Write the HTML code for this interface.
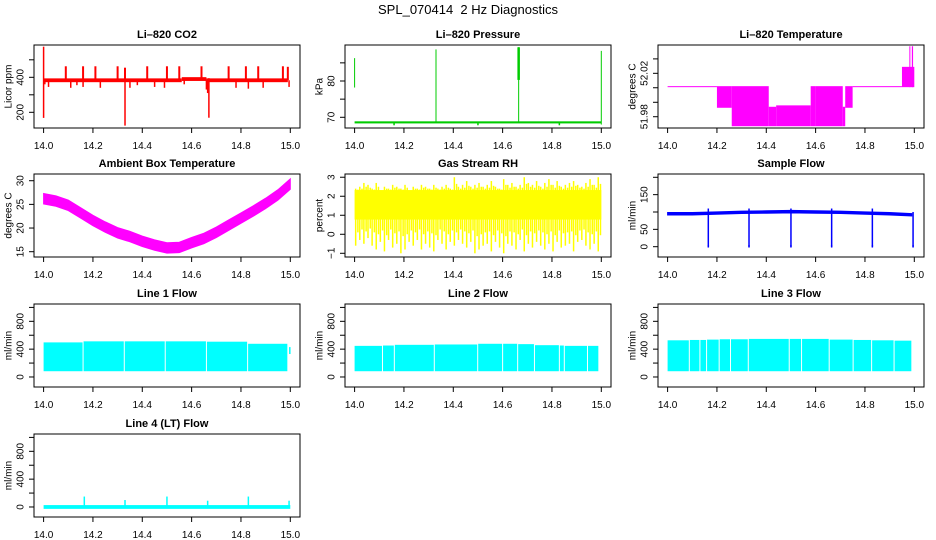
<!DOCTYPE html>
<html><head><meta charset="utf-8">
<style>
body{margin:0;background:#fff;}
svg{display:block;font-family:"Liberation Sans",sans-serif;}
</style></head>
<body>
<svg id="c" width="936" height="540" viewBox="0 0 936 540">
<rect x="0" y="0" width="936" height="540" fill="#fff"/>
<text x="468" y="14" text-anchor="middle" font-size="13" style="white-space:pre">SPL_070414&#160; 2 Hz Diagnostics</text>
</svg>
<script>
// ---- data ----
const xTicks = [14.0,14.2,14.4,14.6,14.8,15.0];
const xTickLabels = ["14.0","14.2","14.4","14.6","14.8","15.0"];

const co2SegStart = [14.0,14.56,14.66];
const co2SegEnd = [14.56,14.66,14.99];
const co2SegVal = [383,390,383];
const co2UpX = [14.09,14.16,14.21,14.30,14.33,14.42,14.50,14.55,14.64,14.75,14.82,14.87,14.97,14.99];
const co2UpV = [463,463,463,463,455,463,463,463,463,463,463,463,463,460];
const co2DownX = [14.005,14.02,14.11,14.135,14.16,14.23,14.35,14.38,14.45,14.49,14.57,14.66,14.665,14.78,14.83,14.89,14.995];
const co2DownV = [360,345,340,355,345,340,340,355,345,340,360,330,310,340,335,340,345];
const co2BigX = [14.0,14.33,14.67];
const co2BigLo = [168,124,169];
const co2BigHi = [575,420,395];

const presBase = 68.6;
const presX = [14.0,14.33,14.665,15.0];
const presLo = [78.2,68.6,68.6,68.0];
const presHi = [86.3,88.7,89.3,88.3];
const presDipX = [14.16,14.5,14.83];
const presDipV = [67.8,67.8,67.8];

const tempSegStart = [14.0,14.2,14.26,14.41,14.44,14.58,14.6,14.71,14.72,14.75,14.95,14.98,14.99];
const tempSegEnd = [14.2,14.26,14.41,14.44,14.58,14.6,14.71,14.72,14.75,14.95,15.0,14.984,14.995];
const tempSegLo = [52.0077,51.9887,51.9717,51.9717,51.9717,51.9717,51.9717,51.9717,51.9887,52.0077,52.0077,52.0077,52.0077];
const tempSegHi = [52.0077,52.0077,52.0077,51.9887,51.9900,52.0077,52.0077,51.9887,52.0077,52.0077,52.0255,52.0445,52.0445];

const ambX = [14.0,14.05,14.1,14.15,14.2,14.25,14.3,14.35,14.4,14.45,14.5,14.55,14.6,14.65,14.7,14.75,14.8,14.85,14.9,14.95,15.0];
const ambMid = [26.2,25.7,24.8,23.2,21.6,20.2,19.0,18.2,17.2,16.4,15.8,15.9,16.9,17.8,19.1,20.6,22.1,23.6,25.2,27.0,29.3];

const rhTop = [2.4,2.5,2.7,2.6,2.4,2.7,2.3,2.5,2.4,2.6,2.5,2.4,2.6,2.3,2.5,2.4,2.6,2.5,2.4,2.6,2.4,2.5,2.6,2.4,3.0,2.5,2.6,2.8,2.5,2.6,2.7,2.5,2.6,2.8,2.5,2.4,2.9,2.6,2.7,2.5,2.6,3.0,2.7,2.6,2.8,2.5,2.7,2.9,2.6,2.8,2.5,2.6,2.7,2.8,2.6,2.5,2.7,2.9,2.6,3.0];
const rhBot = [-0.6,-0.3,-0.5,-0.2,-0.6,-0.8,-0.4,-0.9,-0.3,-0.7,-0.5,-1.0,-0.8,-0.4,-0.6,-0.3,-0.8,-0.5,-0.7,-0.9,-0.3,-0.5,-0.8,-0.4,-0.6,-0.3,-0.5,-0.7,-0.4,-1.0,-0.8,-0.6,-0.5,-0.9,-0.4,-0.7,-1.0,-0.5,-0.6,-0.8,-0.3,-0.9,-0.5,-0.7,-0.4,-0.6,-0.8,-0.5,-0.9,-0.4,-0.7,-0.6,-0.5,-0.9,-0.4,-0.3,-0.6,-0.8,-0.5,-0.9];
const rhCoreLo = 0.8, rhCoreHi = 2.3;

const sfX = [14.0,14.1,14.2,14.3,14.4,14.5,14.6,14.7,14.8,14.9,14.99];
const sfMid = [95,95,97,99,100,101,100,99,97,95,92];
const sfDipX = [14.165,14.33,14.5,14.665,14.83,14.995];
const sfDipTop = [110,110,110,110,110,100];

const l1Gaps = [14.16,14.327,14.493,14.66,14.827];
const l1Top = [490,505,505,505,500,470];
const l2Gaps = [14.113,14.161,14.323,14.499,14.600,14.661,14.729,14.830,14.850,14.944];
const l2Top = [440,445,455,460,470,470,465,450,445,440,440];
const l3Gaps = [14.088,14.131,14.158,14.209,14.255,14.327,14.493,14.543,14.655,14.752,14.827,14.918];
const l3Top = [520,525,525,530,535,535,540,540,540,530,525,520,515];
const flowLow = 90;
const l4SpikeX = [14.165,14.33,14.5,14.665,14.83,14.995];
const l4SpikeV = [150,100,150,90,150,90];

// ---- layout ----
const svg = document.getElementById('c');
const NS = 'http://www.w3.org/2000/svg';
const colL = [34,345,658], rowT = [45,174,304,434], PW = 266, PH = 83;
function mk(tag, attrs, parent){const e=document.createElementNS(NS,tag);for(const k in attrs)e.setAttribute(k,attrs[k]);(parent||svg).appendChild(e);return e;}

function panel(name,title,ylab,col,row,ylo,yhi,yt,ytl){
  const L=colL[col],T=rowT[row];
  const g=mk('g',{});
  
  
  const sx=v=>L+9.6+(v-14)*246.7;
  const sy=v=>T+PH-(v-ylo)/(yhi-ylo)*PH;
  const plot=mk('g',{},g);
  
  
  const box=mk('rect',{x:L,y:T,width:PW,height:PH,fill:'none',stroke:'#000','stroke-width':1},g);
  
  
  const t=mk('text',{x:L+PW/2,y:T-7,'text-anchor':'middle','font-size':11,'font-weight':'bold'},g);
  t.textContent=title;
  
  
  const yl=mk('text',{x:0,y:0,'text-anchor':'middle','font-size':10,transform:`translate(${L-26},${T+PH/2}) rotate(-90)`,dy:'0.35em'},g);
  yl.textContent=ylab;
  
  
  xTicks.forEach((v,i)=>{
    const x=sx(v);
    const tk=mk('line',{x1:x,x2:x,y1:T+PH,y2:T+PH+5,stroke:'#000'},g);
    
    
    const lb=mk('text',{x:x,y:T+PH+21,'text-anchor':'middle','font-size':10},g);
    lb.textContent=xTickLabels[i];
    
    
  });
  yt.forEach((v,i)=>{
    const y=sy(v);
    const tk=mk('line',{x1:L-5,x2:L,y1:y,y2:y,stroke:'#000'},g);
    
    
    if(ytl[i]){
      const lb=mk('text',{x:0,y:0,'text-anchor':'middle','font-size':10,dy:'0.35em',transform:`translate(${L-14},${y}) rotate(-90)`},g);
      lb.textContent=ytl[i];
      
      
    }
  });
  return {sx,sy,g:plot};
}
function vline(p,x,lo,hi,color,w,nm){
  const e=mk('line',{x1:p.sx(x),x2:p.sx(x),y1:p.sy(lo),y2:p.sy(hi),stroke:color,'stroke-width':w||1},p.g);
  
  
  return e;
}
function rect(p,x0,x1,lo,hi,color,nm){
  const y0=p.sy(hi),y1=p.sy(lo);
  const e=mk('rect',{x:p.sx(x0),y:y0-0.5,width:Math.max(p.sx(x1)-p.sx(x0),0.8),height:Math.max(y1-y0,0)+1,fill:color},p.g);
  
  
  return e;
}

// CO2
(function(){
  const p=panel('co2','Li\u2013820 CO2','Licor ppm',0,0,110.3,584.6,[200,300,400,500],["200","","400",""]);
  co2SegStart.forEach((s,i)=>rect(p,s,co2SegEnd[i],co2SegVal[i]-8,co2SegVal[i]+8,'#ff0000','co2-baseline'));
  co2UpX.forEach((x,i)=>vline(p,x,383,co2UpV[i],'#ff0000',2,'co2-up-spike'));
  co2DownX.forEach((x,i)=>vline(p,x,383,co2DownV[i],'#ff0000',1.5,'co2-down-spike'));
  co2BigX.forEach((x,i)=>vline(p,x,co2BigLo[i],co2BigHi[i],'#ff0000',1.5,'co2-big-spike'));
})();
// Pressure
(function(){
  const p=panel('pressure','Li\u2013820 Pressure','kPa',1,0,67.05,89.92,[70,75,80,85],["70","","80",""]);
  rect(p,14.0,15.0,presBase-0.15,presBase+0.15,'#00cc00','pressure-baseline');
  presX.forEach((x,i)=>vline(p,x,presLo[i],presHi[i],'#00cc00',1,'pressure-spike'));
  vline(p,14.665,80.3,89.3,'#00cc00',2.5,'pressure-spike-thick');
  presDipX.forEach((x,i)=>vline(p,x,presBase,presDipV[i],'#00cc00',1.5,'pressure-dip'));
})();
// Temperature
(function(){
  const p=panel('li820-temp','Li\u2013820 Temperature','degrees C',2,0,51.9696,52.0461,[51.98,51.9933,52.0067,52.02,52.0333],["51.98","","","52.02",""]);
  tempSegStart.forEach((s,i)=>rect(p,s,tempSegEnd[i],tempSegLo[i],tempSegHi[i],'#ff00ff','temp-band'));
})();
// Ambient
(function(){
  const p=panel('ambient-temp','Ambient Box Temperature','degrees C',0,1,13.88,31.42,[15,20,25,30],["15","20","25","30"]);
  let pts=ambX.map((x,i)=>p.sx(x)+','+p.sy(ambMid[i]+1.1));
  pts=pts.concat(ambX.map((x,i)=>p.sx(x)+','+p.sy(ambMid[i]-1.1)).reverse());
  const e=mk('polygon',{points:pts.join(' '),fill:'#ff00ff',stroke:'#ff00ff','stroke-width':1},p.g);
  
  
})();
// RH
(function(){
  const p=panel('rh','Gas Stream RH','percent',1,1,-1.195,3.17,[-1,0,1,2,3],["\u22121","0","1","2","3"]);
  rect(p,14.0,15.0,rhCoreLo,rhCoreHi,'#ffff00','rh-core');
  const n=rhTop.length;
  rhTop.forEach((t,i)=>{
    const x=14+(i+0.5)/n;
    vline(p,x-0.004,rhBot[i],t,'#ffff00',1.5,'rh-spike');
    vline(p,x+0.005,(rhBot[i]+rhCoreLo)/2,(t+rhCoreHi)/2,'#ffff00',1.5,'rh-spike');
  });
})();
// Sample flow
(function(){
  const p=panel('sample-flow','Sample Flow','ml/min',2,1,-29.7,209.5,[0,50,100,150,200],["0","50","","150",""]);
  let pts=sfX.map((x,i)=>p.sx(x)+','+p.sy(sfMid[i]+3.5));
  pts=pts.concat(sfX.map((x,i)=>p.sx(x)+','+p.sy(sfMid[i]-3.5)).reverse());
  const e=mk('polygon',{points:pts.join(' '),fill:'#0000ff',stroke:'#0000ff'},p.g);
  
  
  sfDipX.forEach((x,i)=>{vline(p,x,0,sfDipTop[i],'#0000ff',1.5,'sample-flow-dip');rect(p,x-0.003,x+0.003,-1,3,'#0000ff','sample-flow-dip-foot');});
})();
// Line flows
function flowPanel(name,title,col,row,gaps,tops){
  const p=panel(name,title,'ml/min',col,row,-144,1049,[0,200,400,600,800,1000],["0","","400","","800",""]);
  const b=[14.0].concat(gaps).concat([14.99]);
  tops.forEach((t,i)=>rect(p,b[i]+(i?0.002:0),b[i+1]-0.002,flowLow,t,'#00ffff',name+'-band'));
  return p;
}
(function(){const p=flowPanel('line1-flow','Line 1 Flow',0,2,l1Gaps,l1Top);vline(p,14.998,330,430,'#00ffff',1.5,'line1-end');})();
flowPanel('line2-flow','Line 2 Flow',1,2,l2Gaps,l2Top);
flowPanel('line3-flow','Line 3 Flow',2,2,l3Gaps,l3Top);
(function(){
  const p=panel('line4-flow','Line 4 (LT) Flow','ml/min',0,3,-144,1049,[0,200,400,600,800,1000],["0","","400","","800",""]);
  rect(p,14.0,15.0,-20,20,'#00ffff','line4-baseline');
  l4SpikeX.forEach((x,i)=>vline(p,x,0,l4SpikeV[i],'#00ffff',1.5,'line4-spike'));
})();
</script>
</body></html>
